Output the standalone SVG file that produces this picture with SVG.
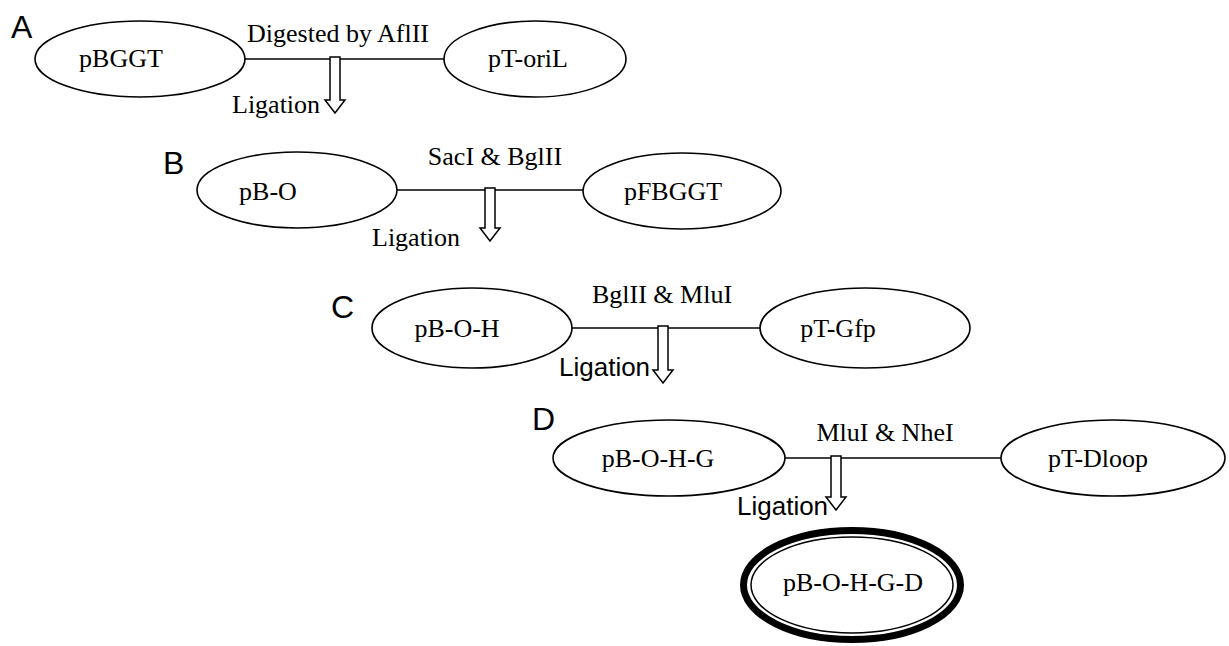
<svg xmlns="http://www.w3.org/2000/svg" width="1229" height="646" viewBox="0 0 1229 646">
<style>
.n{fill:#fff;stroke:#000;stroke-width:1.6}
.t{font-family:"Liberation Serif","Times New Roman",serif;font-size:26px;fill:#000}
.s{font-family:"Liberation Sans",Arial,sans-serif;font-size:26px;fill:#000}
.l{font-family:"Liberation Sans",Arial,sans-serif;font-size:32px;fill:#000}
.c{stroke:#000;stroke-width:1.6;fill:none}
.a{fill:#fff;stroke:#000;stroke-width:1.5;stroke-linejoin:miter}
</style>
<rect width="1229" height="646" fill="#fff"/>
<g id="labels">
<text class="l" x="11" y="38">A</text>
<text class="l" x="163" y="174">B</text>
<text class="l" x="331" y="318">C</text>
<text class="l" x="532" y="430">D</text>
</g>
<g id="connectors">
<line class="c" x1="245" y1="59" x2="444" y2="59"/>
<line class="c" x1="397" y1="190" x2="583" y2="190"/>
<line class="c" x1="572" y1="328" x2="760" y2="328"/>
<line class="c" x1="785" y1="458" x2="1001" y2="458"/>
<path class="a" d="M330,57 V100 H325 L335,113 L345,100 H340 V57 Z"/>
<path class="a" d="M485,188 V228 H480 L490,241 L500,228 H495 V188 Z"/>
<path class="a" d="M658,326 V370 H653 L663,383 L673,370 H668 V326 Z"/>
<path class="a" d="M831,456 V497 H826 L836,510 L846,497 H841 V456 Z"/>
<text class="t" x="338" y="42" text-anchor="middle">Digested by AflII</text>
<text class="t" x="232" y="113">Ligation</text>
<text class="t" x="495" y="165" text-anchor="middle">SacI &amp; BglII</text>
<text class="t" x="372" y="246">Ligation</text>
<text class="t" x="662" y="303" text-anchor="middle">BglII &amp; MluI</text>
<text class="s" x="559" y="376">Ligation</text>
<text class="t" x="885" y="441" text-anchor="middle">MluI &amp; NheI</text>
<text class="s" x="737" y="515">Ligation</text>
</g>
<g id="pBGGT">
<ellipse class="n" cx="140" cy="59" rx="105" ry="38"/>
<text class="t" x="121" y="67" text-anchor="middle">pBGGT</text>
</g>
<g id="pT-oriL">
<ellipse class="n" cx="535" cy="59" rx="91" ry="38"/>
<text class="t" x="528" y="67" text-anchor="middle">pT-oriL</text>
</g>
<g id="pB-O">
<ellipse class="n" cx="297" cy="190" rx="100" ry="38"/>
<text class="t" x="268" y="200" text-anchor="middle">pB-O</text>
</g>
<g id="pFBGGT">
<ellipse class="n" cx="682" cy="191" rx="99" ry="38"/>
<text class="t" x="673" y="200" text-anchor="middle">pFBGGT</text>
</g>
<g id="pB-O-H">
<ellipse class="n" cx="472" cy="328" rx="100" ry="40"/>
<text class="t" x="457" y="337" text-anchor="middle">pB-O-H</text>
</g>
<g id="pT-Gfp">
<ellipse class="n" cx="865" cy="328" rx="105" ry="40"/>
<text class="t" x="838" y="337" text-anchor="middle">pT-Gfp</text>
</g>
<g id="pB-O-H-G">
<ellipse class="n" cx="669" cy="458" rx="116" ry="38"/>
<text class="t" x="658" y="467" text-anchor="middle">pB-O-H-G</text>
</g>
<g id="pT-Dloop">
<ellipse class="n" cx="1113" cy="458" rx="112" ry="38"/>
<text class="t" x="1098" y="467" text-anchor="middle">pT-Dloop</text>
</g>
<g id="pB-O-H-G-D">
<ellipse cx="852" cy="585" rx="108.5" ry="54.5" fill="#fff" stroke="#000" stroke-width="7"/>
<ellipse cx="852" cy="585" rx="101" ry="48" fill="none" stroke="#000" stroke-width="1.5"/>
<text class="t" x="853" y="591" text-anchor="middle">pB-O-H-G-D</text>
</g>
</svg>
